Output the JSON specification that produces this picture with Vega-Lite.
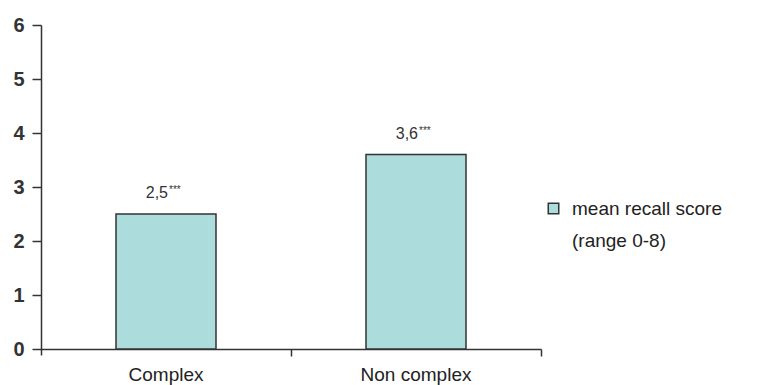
{
  "$schema": "https://vega.github.io/schema/vega-lite/v6.json",
  "autosize": "none",
  "width": 500,
  "height": 330,
  "padding": {"left": 41, "top": 25, "right": 219, "bottom": 30},
  "background": "white",
  "config": {"view": {"stroke": null}, "font": "Liberation Sans", "style": {"guide-label": {"lineHeight": 32}}},
  "data": {"values": [
    {"category": "Complex", "value": 2.5, "label": "2,5", "stars": "***", "series": "mean recall score"},
    {"category": "Non complex", "value": 3.6, "label": "3,6", "stars": "***", "series": "mean recall score"}
  ]},
  "encoding": {
    "x": {"field": "category", "type": "nominal", "sort": null,
      "scale": {"paddingInner": 0.6, "paddingOuter": 0.3},
      "axis": {"title": null, "labelAngle": 0, "bandPosition": 1.75, "offset": -6, "domainColor": "#333", "domainWidth": 1.5,
        "tickColor": "#333", "tickWidth": 1.5, "tickSize": 7, "labelPadding": 9, "labelFontSize": 19,
        "labelColor": "#222", "labelFont": "Liberation Sans"}},
    "y": {"field": "value", "type": "quantitative",
      "scale": {"domain": [-0.111, 6], "nice": false, "zero": false},
      "axis": {"title": null, "values": [0, 1, 2, 3, 4, 5, 6], "grid": false, "domainColor": "#333", "domainWidth": 1.5,
        "tickColor": "#333", "tickWidth": 1.5, "tickSize": 9, "labelPadding": 8, "labelFontSize": 20,
        "labelFontWeight": "bold", "labelColor": "#333", "labelFont": "Liberation Sans"}}
  },
  "layer": [
    {"mark": {"type": "bar", "stroke": "#333", "strokeWidth": 1.5},
     "encoding": {"y2": {"datum": 0},
       "color": {"field": "series", "type": "nominal", "scale": {"range": ["#acdcdc"]},
       "legend": {"title": null, "orient": "none", "legendX": 503, "legendY": 174, "symbolType": "square",
         "symbolSize": 110, "symbolStrokeColor": "#333", "symbolStrokeWidth": 1.5, "labelFontSize": 19,
         "labelColor": "#222", "labelOffset": 9, "labelLimit": 300,
         "labelExpr": "['mean recall score', '(range 0-8)']", "labelBaseline": "middle"}}}},
    {"mark": {"type": "text", "align": "right", "baseline": "alphabetic", "dx": 2, "dy": -16, "fontSize": 16, "color": "#333"},
     "encoding": {"text": {"field": "label"}}},
    {"mark": {"type": "text", "align": "left", "baseline": "alphabetic", "dx": 3, "dy": -21, "fontSize": 10, "color": "#333"},
     "encoding": {"text": {"field": "stars"}}}
  ]
}
